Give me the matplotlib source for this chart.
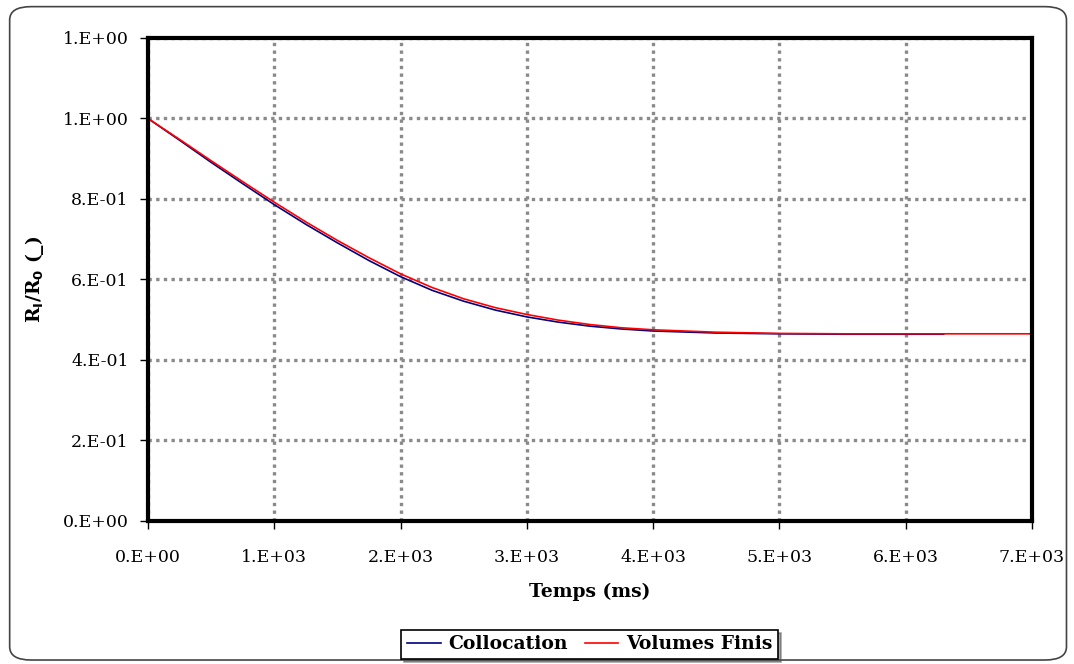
import matplotlib
matplotlib.use("Agg")
import matplotlib.pyplot as plt
from matplotlib.patches import FancyBboxPatch
from matplotlib.ticker import FuncFormatter, MultipleLocator

# values
temps_coll = [0, 250, 500, 750, 1000, 1250, 1500, 1750, 2000, 2250, 2500,
              2750, 3000, 3250, 3500, 3750, 4000, 4500, 5000, 5500, 6000, 6300]
ratio_coll = [1.000, 0.946, 0.891, 0.838, 0.786, 0.737, 0.691, 0.647, 0.607,
              0.573, 0.546, 0.524, 0.507, 0.494, 0.484, 0.477, 0.472, 0.467,
              0.465, 0.464, 0.464, 0.464]

temps_vf = [0, 250, 500, 750, 1000, 1250, 1500, 1750, 2000, 2250, 2500,
            2750, 3000, 3250, 3500, 3750, 4000, 4500, 5000, 5500, 6000, 7000]
ratio_vf = [1.000, 0.948, 0.895, 0.843, 0.792, 0.743, 0.697, 0.654, 0.614,
            0.580, 0.552, 0.530, 0.513, 0.499, 0.488, 0.480, 0.475, 0.469,
            0.466, 0.465, 0.465, 0.465]

plt.rcParams["font.family"] = ["DejaVu Serif"]

fig = plt.figure(figsize=(10.74, 6.64), dpi=100)

# rounded frame round the whole chart
frame = FancyBboxPatch((0.009, 0.006), 0.984, 0.984,
                       boxstyle="round,pad=0,rounding_size=0.02",
                       transform=fig.transFigure, fill=False,
                       edgecolor="#444444", linewidth=1.2)
fig.patches.append(frame)

ax = fig.add_axes([0.1378, 0.2154, 0.8231, 0.7274])

ax.plot(temps_coll, ratio_coll, color="#000080", linewidth=1.2, label="Collocation")
ax.plot(temps_vf, ratio_vf, color="#ff0000", linewidth=1.2, label="Volumes Finis")

ax.set_xlim(0, 7000)
ax.set_ylim(0, 1.2)
ax.xaxis.set_major_locator(MultipleLocator(1000))
ax.yaxis.set_major_locator(MultipleLocator(0.2))


def excel_sci(v, pos):
    return "{:.0E}".format(v).replace("E", ".E")


ax.xaxis.set_major_formatter(FuncFormatter(excel_sci))
ax.yaxis.set_major_formatter(FuncFormatter(excel_sci))

ax.grid(True, color="#8a8a8a", linestyle=(0, (1.0, 1.3)), linewidth=2.4)
ax.set_axisbelow(True)

for s in ax.spines.values():
    s.set_linewidth(3)
    s.set_color("black")

ax.tick_params(direction="out", length=6, width=1, labelsize=12.5)
ax.tick_params(axis="y", pad=8)
ax.tick_params(axis="x", pad=14)

ax.set_xlabel("Temps (ms)", fontsize=13.5, fontweight="bold", labelpad=12)
ax.set_ylabel(r"R$_\mathbf{I}$/R$_\mathbf{0}$ (_)", fontsize=13.5,
              fontweight="bold", labelpad=12)

leg = fig.legend(loc="center", bbox_to_anchor=(0.549, 0.0295), ncol=2,
                 frameon=True, fancybox=False, shadow=True,
                 prop={"size": 13.5, "weight": "bold"},
                 handlelength=1.8, handletextpad=0.4, columnspacing=0.9,
                 borderpad=0.3)
leg.get_frame().set_edgecolor("black")
leg.get_frame().set_linewidth(1.2)
for line in leg.get_lines():
    line.set_linewidth(1.2)

fig.savefig("out.png", dpi=100)
